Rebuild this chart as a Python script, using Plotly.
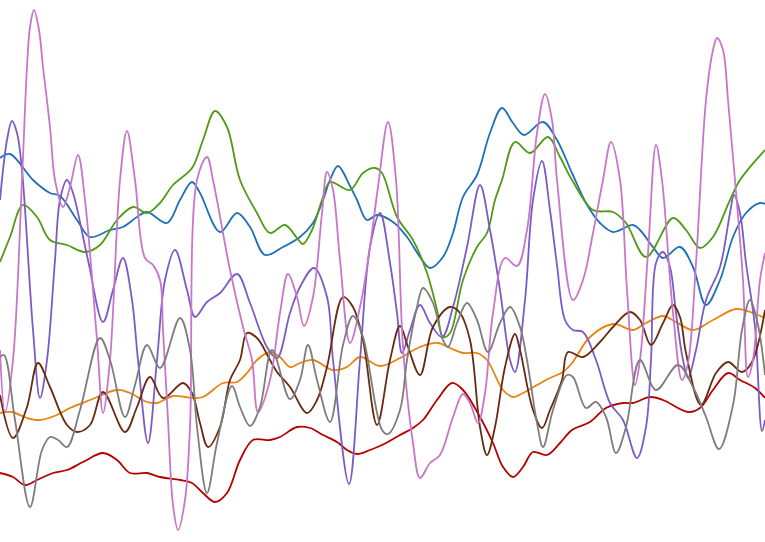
import plotly.graph_objects as go

# Series values (x = horizontal position 0..765, y = value on a 0..542 scale, top = 0)
blue_x = [0,10,33,50,60,77,90,110,123,137,147,167,180,192,200,220,237,250,265,283,300,313,323,330,338,350,357,367,377,393,407,420,430,443,453,463,477,490,502,513,524,543,557,572,586,600,613,633,640,653,663,680,693,706,720,733,746,760,765]
blue_y = [158,154,180,193,196,220,237,230,227,217,212,223,200,182,193,232,213,227,255,247,237,223,200,180,166,186,200,220,215,222,237,257,268,257,233,197,175,133,108,123,135,122,140,173,203,223,232,225,230,247,258,247,267,305,280,237,213,203,204]

green_x = [0,10,23,37,50,67,85,100,117,133,147,160,173,192,203,215,227,240,257,270,285,297,303,312,323,330,350,363,375,382,397,413,427,437,443,450,463,477,487,495,502,515,530,548,560,572,593,613,626,646,673,686,700,713,730,740,765]
green_y = [262,237,205,217,240,245,252,245,220,207,213,203,185,168,140,111,127,180,213,233,225,238,244,230,197,182,190,173,168,173,217,240,273,310,337,333,280,247,233,200,180,142,153,137,157,180,210,212,223,257,218,230,248,237,200,180,150]

orange_x = [0,12,27,40,57,70,90,117,130,147,157,173,192,203,223,237,247,257,270,280,290,300,313,333,347,360,380,400,420,438,450,463,477,487,503,513,523,537,550,563,572,590,613,633,646,663,676,693,713,736,753,765]
orange_y = [413,412,418,420,415,408,400,390,393,402,403,396,398,397,383,382,373,360,352,357,367,363,360,370,367,357,366,358,347,343,348,353,353,360,390,397,393,385,378,372,363,337,324,330,323,316,322,330,320,309,313,318]

red_x = [0,13,25,37,53,67,83,103,117,130,147,160,180,192,203,215,227,240,253,270,280,297,310,323,337,347,357,370,382,400,413,423,437,452,463,480,493,503,513,523,533,547,560,572,590,606,623,633,650,663,688,700,713,728,740,755,765]
red_y = [473,477,485,480,473,470,462,453,460,473,473,477,480,483,493,502,493,460,440,440,437,427,428,435,442,450,454,450,445,435,428,420,400,383,390,417,443,467,477,467,452,455,443,430,422,408,403,403,397,400,412,408,390,373,380,388,398]

purple_x = [0,7,12,17,22,33,40,47,55,60,67,73,88,103,113,123,132,138,148,157,165,175,187,195,207,220,237,250,267,277,290,300,314,327,333,349,360,370,380,390,397,402,410,420,430,442,453,467,480,490,500,510,515,525,533,542,550,557,565,573,583,596,610,623,637,646,651,656,663,670,676,683,688,696,706,720,730,734,740,746,755,762,765]
purple_y = [200,140,121,133,170,330,398,360,260,200,180,193,260,322,290,258,300,360,443,360,280,250,290,317,302,293,274,303,347,358,313,287,268,297,360,484,360,247,213,263,313,353,330,305,323,337,307,247,185,230,290,360,372,300,200,161,210,265,320,330,332,360,403,420,458,427,360,263,252,267,313,360,378,350,300,267,213,195,213,263,327,431,420]

brown_x = [0,13,27,38,50,67,77,90,103,125,137,150,163,183,192,200,208,220,230,240,247,257,270,277,290,307,317,327,343,353,363,377,390,400,408,420,433,450,460,470,480,487,495,505,515,520,533,542,550,562,568,583,600,613,630,640,651,663,673,680,686,701,716,728,742,752,765]
brown_y = [395,438,407,363,387,425,432,425,392,432,407,377,398,383,393,423,447,427,380,360,333,338,360,372,387,413,400,367,297,307,340,425,360,326,347,375,327,307,313,340,427,455,427,367,334,350,410,428,410,380,352,357,342,327,312,320,345,323,305,317,353,405,373,362,372,362,310]

pink_x = [0,5,13,22,27,30,34,39,43,50,55,63,70,78,85,97,103,110,120,127,135,145,153,160,163,168,173,178,185,190,197,207,213,230,243,252,258,270,280,288,297,304,313,322,327,333,340,350,360,370,378,388,396,403,413,420,430,440,453,463,470,478,485,493,505,517,527,537,545,552,557,573,583,593,603,611,620,627,635,640,648,656,662,673,682,688,696,706,713,717,723,728,735,743,748,753,760,765]
pink_y = [350,412,360,180,67,27,10,30,67,127,180,207,187,155,200,340,413,360,180,131,180,258,265,280,330,420,505,530,500,427,180,157,180,270,327,360,412,380,313,274,297,326,297,213,172,190,260,343,307,247,187,122,180,347,443,478,463,455,417,394,403,423,393,313,258,266,230,133,94,120,180,300,280,233,180,142,180,290,385,360,253,145,180,313,380,363,263,100,50,38,50,100,180,280,377,360,280,253]

gray_x = [0,4,15,30,42,50,58,67,80,100,110,125,135,147,160,180,190,197,207,217,232,240,250,260,272,290,300,308,317,330,343,353,363,382,388,400,407,417,423,433,443,448,457,467,477,488,500,510,520,527,537,543,553,567,573,586,596,606,616,626,640,656,678,693,706,719,733,742,750,758,765]
gray_y = [357,355,420,507,450,437,440,447,410,338,360,417,385,345,368,318,350,427,493,443,386,407,426,407,350,399,380,345,380,422,345,316,337,430,434,410,360,307,288,303,340,347,323,303,320,352,323,307,327,360,423,447,410,375,377,408,402,417,453,427,360,390,365,387,417,449,405,330,300,325,375]

series = [
    (blue_x, blue_y, "#2070b8"),
    (orange_x, orange_y, "#e8830e"),
    (green_x, green_y, "#4f9b14"),
    (red_x, red_y, "#b50000"),
    (purple_x, purple_y, "#7c5bc6"),
    (brown_x, brown_y, "#6a2a0e"),
    (pink_x, pink_y, "#c876c9"),
    (gray_x, gray_y, "#7d7d7d"),
]

fig = go.Figure()
for xs, ys, c in series:
    fig.add_trace(go.Scatter(x=xs, y=ys, mode="lines",
                             line=dict(color=c, width=1.8, shape="spline", smoothing=1.0),
                             hoverinfo="skip", showlegend=False))

fig.update_layout(
    width=765, height=542,
    margin=dict(l=0, r=0, t=0, b=0),
    paper_bgcolor="white", plot_bgcolor="white",
    xaxis=dict(range=[0, 765], visible=False, fixedrange=True),
    yaxis=dict(range=[542, 0], visible=False, fixedrange=True),
    showlegend=False,
)
fig.write_html("out.html")
